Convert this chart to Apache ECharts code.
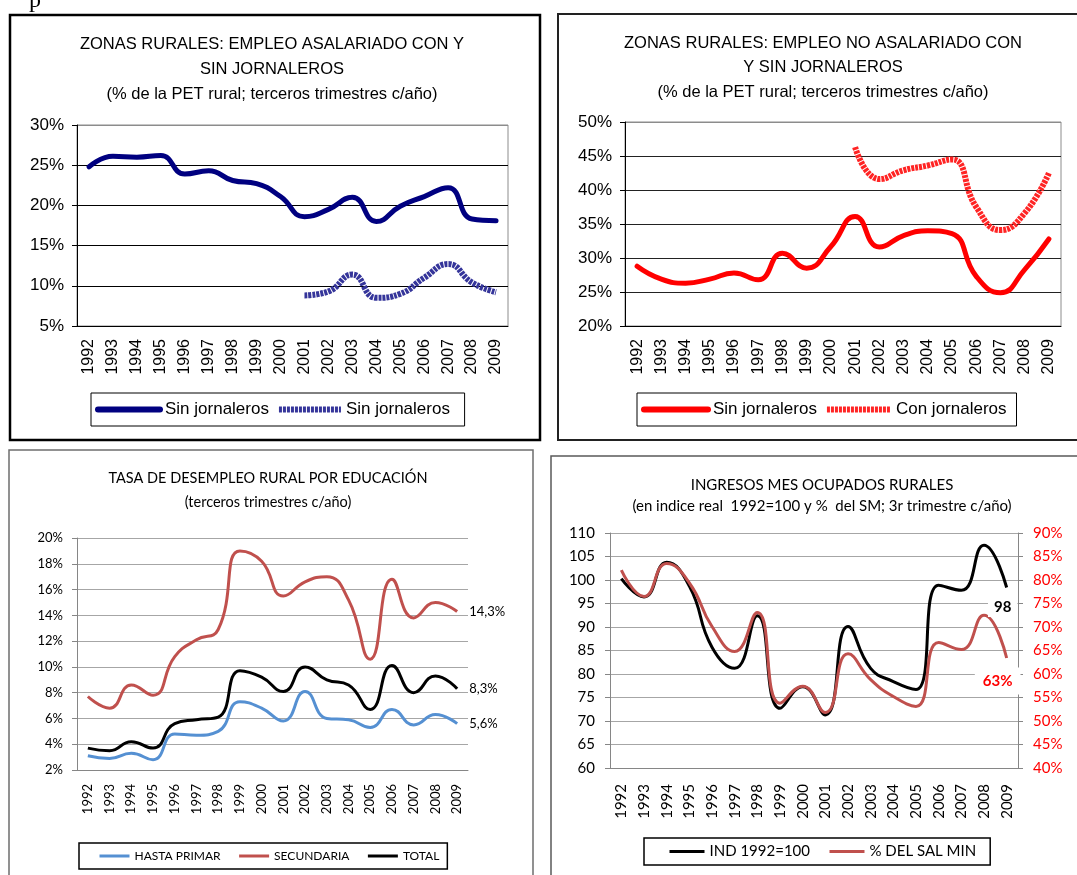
<!DOCTYPE html>
<html>
<head>
<meta charset="utf-8">
<script src="https://cdn.jsdelivr.net/npm/echarts@6/dist/echarts.min.js"></script>
<style>
  html, body { margin: 0; padding: 0; background: #fff; overflow: hidden; }
  .layer { position: absolute; left: 0; top: 0; width: 1077px; height: 875px; }
</style>
</head>
<body>
<div id="c1" class="layer"></div>
<div id="c2" class="layer"></div>
<div id="c3" class="layer"></div>
<div id="c4" class="layer"></div>
<script>
const years = ['1992', '1993', '1994', '1995', '1996', '1997', '1998', '1999', '2000',
  '2001', '2002', '2003', '2004', '2005', '2006', '2007', '2008', '2009'];

// empleo asalariado (% PET rural)
const asalSin = [24.8, 26.1, 26.0, 26.2, 23.9, 24.3, 23.1, 22.7, 21.1, 18.6, 19.5, 21.0, 18.0, 19.9, 21.1, 22.2, 18.3, 18.1];
const asalCon = [null, null, null, null, null, null, null, null, null, 8.8, 9.3, 11.4, 8.5, 9.0, 11.0, 12.7, 10.4, 9.2];

// empleo no asalariado (% PET rural)
const noAsalSin = [28.8, 26.9, 26.3, 26.9, 27.8, 26.8, 30.7, 28.5, 31.7, 36.1, 31.6, 33.3, 34.0, 33.6, 27.3, 24.9, 28.3, 32.8];
const noAsalCon = [null, null, null, null, null, null, null, null, null, 46.3, 41.6, 42.9, 43.6, 44.5, 37.5, 34.1, 36.6, 42.5];

// tasa de desempleo rural por educacion (%)
const desHasta = [3.1, 2.9, 3.3, 2.8, 4.8, 4.7, 5.0, 7.3, 6.8, 5.8, 8.1, 6.0, 5.9, 5.3, 6.7, 5.5, 6.3, 5.6];
const desSec = [7.7, 6.8, 8.6, 7.8, 10.8, 12.1, 12.9, 19.0, 18.2, 15.5, 16.6, 17.0, 15.2, 10.6, 16.8, 13.8, 15.0, 14.3];
const desTotal = [3.7, 3.5, 4.2, 3.7, 5.6, 5.9, 6.1, 9.7, 9.2, 8.1, 10.0, 9.0, 8.6, 6.7, 10.1, 8.0, 9.3, 8.3];

// ingresos mes ocupados rurales
const ingInd = [100.3, 96.4, 103.8, 98.7, 85.7, 81.2, 92.4, 72.7, 77.3, 71.3, 90.1, 81.2, 78.4, 76.7, 98.9, 97.8, 107.4, 98.4];
const ingSal = [82.1, 76.5, 83.5, 79.4, 70.1, 64.8, 73.1, 53.8, 57.4, 51.8, 64.3, 58.8, 55.2, 53.1, 66.7, 65.2, 72.5, 63.4];

const last = years.length - 1;

function frame(x, y, w, h, color, lw) {
  return { type: 'rect', shape: { x: x, y: y, width: w, height: h }, style: { fill: null, stroke: color, lineWidth: lw }, silent: true };
}
// hide the little symbol echarts puts in the middle of line legend icons
const noLegendSymbol = { color: 'rgba(0,0,0,0)', borderWidth: 0, opacity: 0 };

// ---------- chart 1 ----------
const c1 = echarts.init(document.getElementById('c1'));
c1.setOption({
  animation: false,
  textStyle: { fontFamily: 'Liberation Sans' },
  graphic: [
    frame(10, 15, 530, 425, '#000', 2.5),
    { type: 'text', left: 29, top: -11, style: { text: 'p', font: '24px "Liberation Serif"', fill: '#000' } }
  ],
  title: {
    text: 'ZONAS RURALES: EMPLEO ASALARIADO CON Y\nSIN JORNALEROS\n(% de la PET rural; terceros trimestres c/año)',
    left: 267, top: 27, textAlign: 'center',
    textStyle: { fontSize: 16.5, fontWeight: 'normal', lineHeight: 25, color: '#000' }
  },
  grid: { left: 77, top: 125, width: 431, height: 201, show: true, borderColor: '#8c8c8c', borderWidth: 1 },
  legend: {
    left: 91, top: 393, padding: [8, 10, 8, 4], itemGap: 7, itemWidth: 62, itemHeight: 8,
    borderColor: '#000', borderWidth: 1, itemStyle: noLegendSymbol, lineStyle: { width: 6 },
    textStyle: { fontSize: 17, color: '#000' },
    data: ['Sin jornaleros', 'Sin jornaleros ']
  },
  xAxis: {
    type: 'category', data: years, boundaryGap: true,
    axisLine: { lineStyle: { color: '#000' } },
    axisTick: { length: 5, lineStyle: { color: '#000' } },
    axisLabel: { rotate: 90, interval: 0, fontSize: 16, color: '#000', margin: 13 }
  },
  yAxis: {
    type: 'value', min: 5, max: 30, interval: 5,
    axisLine: { show: true, lineStyle: { color: '#000' } },
    axisTick: { show: true, length: 5, lineStyle: { color: '#000' } },
    axisLabel: { formatter: '{value}%', fontSize: 17, color: '#000', margin: 13 },
    splitLine: { lineStyle: { color: ['#000', '#000', '#000', '#000', '#000', '#8c8c8c'] } }
  },
  series: [
    { name: 'Sin jornaleros', type: 'line', data: asalSin, smooth: true, symbol: 'none',
      lineStyle: { color: '#000080', width: 5, cap: 'round' }, itemStyle: { color: '#000080' } },
    { name: 'Sin jornaleros ', type: 'line', data: asalCon, smooth: true, symbol: 'none',
      lineStyle: { color: '#35359a', width: 6, type: [3, 1] }, itemStyle: { color: '#35359a' } }
  ]
});

// ---------- chart 2 ----------
const c2 = echarts.init(document.getElementById('c2'));
c2.setOption({
  animation: false,
  textStyle: { fontFamily: 'Liberation Sans' },
  graphic: [frame(558, 14, 530, 426, '#222', 2)],
  title: {
    text: 'ZONAS RURALES: EMPLEO NO ASALARIADO CON\nY SIN JORNALEROS\n(% de la PET rural; terceros trimestres c/año)',
    left: 818, top: 26, textAlign: 'center',
    textStyle: { fontSize: 16.5, fontWeight: 'normal', lineHeight: 24.5, color: '#000' }
  },
  grid: { left: 625, top: 122, width: 436, height: 204, show: true, borderColor: '#8c8c8c', borderWidth: 1 },
  legend: {
    left: 637, top: 393, padding: [8, 10, 8, 4], itemGap: 7, itemWidth: 64, itemHeight: 8,
    borderColor: '#000', borderWidth: 1, itemStyle: noLegendSymbol, lineStyle: { width: 6 },
    textStyle: { fontSize: 17, color: '#000' },
    data: ['Sin jornaleros', 'Con jornaleros']
  },
  xAxis: {
    type: 'category', data: years, boundaryGap: true,
    axisLine: { lineStyle: { color: '#000' } },
    axisTick: { length: 5, lineStyle: { color: '#000' } },
    axisLabel: { rotate: 90, interval: 0, fontSize: 16, color: '#000', margin: 13 }
  },
  yAxis: {
    type: 'value', min: 20, max: 50, interval: 5,
    axisLine: { show: true, lineStyle: { color: '#000' } },
    axisTick: { show: true, length: 5, lineStyle: { color: '#000' } },
    axisLabel: { formatter: '{value}%', fontSize: 17, color: '#000', margin: 13 },
    splitLine: { lineStyle: { color: ['#000', '#222', '#222', '#222', '#222', '#222', '#8c8c8c'] } }
  },
  series: [
    { name: 'Sin jornaleros', type: 'line', data: noAsalSin, smooth: true, symbol: 'none',
      lineStyle: { color: '#ff0000', width: 5, cap: 'round' }, itemStyle: { color: '#ff0000' } },
    { name: 'Con jornaleros', type: 'line', data: noAsalCon, smooth: true, symbol: 'none',
      lineStyle: { color: '#ff2424', width: 6, type: [3, 1] }, itemStyle: { color: '#ff2424' } }
  ]
});

// ---------- chart 3 ----------
const c3 = echarts.init(document.getElementById('c3'));
const pctComma = p => p.value.toFixed(1).replace('.', ',') + '%';
const endLab = { show: true, formatter: pctComma, distance: 12, fontSize: 13, color: '#000', fontFamily: 'Lato' };
c3.setOption({
  animation: false,
  textStyle: { fontFamily: 'Lato' },
  graphic: [frame(9, 450, 524, 440, '#6e6e6e', 1.5)],
  title: {
    text: 'TASA DE DESEMPLEO RURAL POR EDUCACIÓN\n(terceros trimestres c/año)',
    left: 263, top: 461, textAlign: 'center',
    textStyle: { fontSize: 14.5, fontWeight: 'normal', lineHeight: 24, color: '#000' }
  },
  grid: { left: 77, top: 538, width: 391, height: 232 },
  legend: {
    left: 79, top: 843, padding: [7, 8, 7, 19], itemGap: 17, itemWidth: 30, itemHeight: 3,
    borderColor: '#000', borderWidth: 1.5, itemStyle: noLegendSymbol, lineStyle: { width: 3 },
    textStyle: { fontSize: 12, color: '#000' },
    data: ['HASTA PRIMAR', 'SECUNDARIA', 'TOTAL']
  },
  xAxis: {
    type: 'category', data: years, boundaryGap: true,
    axisLine: { lineStyle: { color: '#868686' } },
    axisTick: { length: 5, lineStyle: { color: '#868686' } },
    axisLabel: { rotate: 90, interval: 0, fontSize: 13, color: '#000', margin: 14 }
  },
  yAxis: {
    type: 'value', min: 2, max: 20, interval: 2,
    axisLine: { show: true, lineStyle: { color: '#868686' } },
    axisTick: { show: true, length: 5, lineStyle: { color: '#868686' } },
    axisLabel: { formatter: '{value}%', fontSize: 13, color: '#000', margin: 14 },
    splitLine: { lineStyle: { color: '#a6a6a6' } }
  },
  series: [
    { name: 'HASTA PRIMAR', type: 'line', data: desHasta, smooth: true, symbol: 'none',
      lineStyle: { color: '#5590d2', width: 3 }, itemStyle: { color: '#5590d2' }, endLabel: endLab },
    { name: 'SECUNDARIA', type: 'line', data: desSec, smooth: true, symbol: 'none',
      lineStyle: { color: '#c0504d', width: 3 }, itemStyle: { color: '#c0504d' }, endLabel: endLab },
    { name: 'TOTAL', type: 'line', data: desTotal, smooth: true, symbol: 'none',
      lineStyle: { color: '#000', width: 3 }, itemStyle: { color: '#000' }, endLabel: endLab }
  ]
});

// ---------- chart 4 ----------
const c4 = echarts.init(document.getElementById('c4'));
c4.setOption({
  animation: false,
  textStyle: { fontFamily: 'Lato' },
  graphic: [frame(551, 456, 540, 440, '#5a5a5a', 1.5)],
  title: {
    text: 'INGRESOS MES OCUPADOS RURALES\n(en indice real  1992=100 y %  del SM; 3r trimestre c/año)',
    left: 817, top: 470, textAlign: 'center',
    textStyle: { fontSize: 15, fontWeight: 'normal', lineHeight: 21, color: '#000' }
  },
  grid: { left: 610, top: 533, width: 408, height: 235 },
  legend: {
    left: 644, top: 838, padding: [6, 14, 6, 24], itemGap: 18, itemWidth: 35, itemHeight: 3,
    borderColor: '#000', borderWidth: 1.5, itemStyle: noLegendSymbol, lineStyle: { width: 3 },
    textStyle: { fontSize: 15, color: '#000' },
    data: ['IND 1992=100', '% DEL SAL MIN']
  },
  xAxis: {
    type: 'category', data: years, boundaryGap: true,
    axisLine: { lineStyle: { color: '#868686' } },
    axisTick: { length: 5, lineStyle: { color: '#868686' } },
    axisLabel: { rotate: 90, interval: 0, fontSize: 15, color: '#000', margin: 16 }
  },
  yAxis: [
    {
      type: 'value', min: 60, max: 110, interval: 5,
      axisLine: { show: true, lineStyle: { color: '#868686' } },
      axisTick: { show: true, length: 5, lineStyle: { color: '#868686' } },
      axisLabel: { fontSize: 15, color: '#000', margin: 15 },
      splitLine: { lineStyle: { color: '#a6a6a6' } }
    },
    {
      type: 'value', min: 40, max: 90, interval: 5, position: 'right',
      axisLine: { show: true, lineStyle: { color: '#868686' } },
      axisTick: { show: true, length: 5, lineStyle: { color: '#868686' } },
      axisLabel: { formatter: '{value}%', fontSize: 15, color: '#ff0000', margin: 15 },
      splitLine: { show: false }
    }
  ],
  series: [
    { name: 'IND 1992=100', type: 'line', data: ingInd, smooth: true, symbol: 'none',
      lineStyle: { color: '#000', width: 3 }, itemStyle: { color: '#000' },
      markPoint: {
        symbol: 'circle', symbolSize: 1, itemStyle: { color: 'rgba(0,0,0,0)' },
        data: [{ coord: [years[last], ingInd[last]], value: ingInd[last] }],
        label: { show: true, position: 'inside', offset: [-4, 20], formatter: p => String(Math.round(p.value)),
          fontSize: 15, fontWeight: 'bold', color: '#000', backgroundColor: '#fff', padding: [2, 6] }
      } },
    { name: '% DEL SAL MIN', type: 'line', yAxisIndex: 1, data: ingSal, smooth: true, symbol: 'none',
      lineStyle: { color: '#c0504d', width: 3 }, itemStyle: { color: '#c0504d' },
      markPoint: {
        symbol: 'circle', symbolSize: 1, itemStyle: { color: 'rgba(0,0,0,0)' },
        data: [{ coord: [years[last], ingSal[last]], value: ingSal[last] }],
        label: { show: true, position: 'inside', offset: [-9, 23], formatter: p => Math.round(p.value) + '%',
          fontSize: 15, fontWeight: 'bold', color: '#ff0000', backgroundColor: '#fff', padding: [6, 8] }
      } }
  ]
});
</script>
</body>
</html>
